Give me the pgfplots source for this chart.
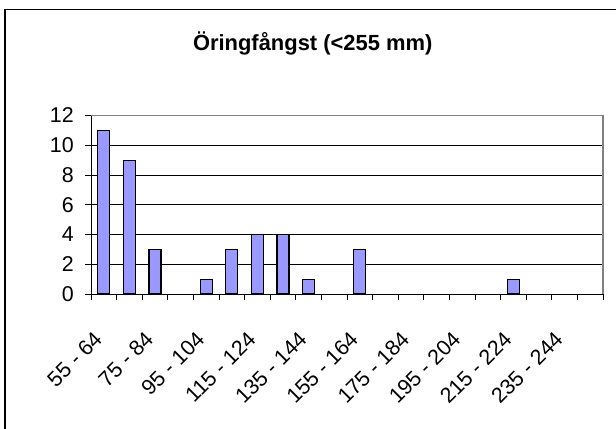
\documentclass[border=0pt]{standalone}
\usepackage{fontspec}
\setmainfont{Liberation Sans}
\usepackage{pgfplots}
\usepackage{pgfplotstable}
\pgfplotsset{compat=1.18}
\definecolor{barblue}{RGB}{153,153,255}
\definecolor{framegray}{RGB}{128,128,128}
\pgfplotstableread{
idx val
0 11
1 9
2 3
3 0
4 1
5 3
6 4
7 4
8 1
9 0
10 3
11 0
12 0
13 0
14 0
15 0
16 1
17 0
18 0
19 0
}\datatable
\begin{document}
\begin{tikzpicture}
\useasboundingbox (0bp,0bp) rectangle (616bp,429bp);
\draw[line width=1.1bp] (5bp,-20bp) -- (5bp,419.7bp) -- (640bp,419.7bp);
\node[font=\fontsize{22}{24}\selectfont\bfseries, anchor=base, inner sep=0pt] at (312.7bp,378.3bp) {Öringfångst (<255 mm)};
\begin{axis}[
  at={(91bp,135bp)}, anchor=south west,
  scale only axis, width=512bp, height=178.5bp,
  xmin=-0.5, xmax=19.5, ymin=0, ymax=12,
  ytick={0,2,...,12},
  xtick={0,2,...,18},
  xticklabels={55 - 64,75 - 84,95 - 104,115 - 124,135 - 144,155 - 164,175 - 184,195 - 204,215 - 224,235 - 244},
  minor xtick={-0.5,0.5,...,19.5},
  major x tick style={draw=none},
  minor x tick style={black, line width=0.8bp},
  y tick style={black, line width=0.8bp},
  tick align=outside,
  major tick length=6bp, minor tick length=6bp,
  axis x line*=bottom, axis y line*=left,
  axis line style={black, line width=1bp},
  ymajorgrids, grid style={black, line width=0.8bp},
  /pgf/number format/assume math mode=true,
  ticklabel style={font=\fontsize{21.5}{23}\selectfont, inner sep=0pt},
  yticklabel style={anchor=east, xshift=-11bp},
  xticklabel style={xshift=-11bp, yshift=-30bp, rotate=45, anchor=north east},
  ybar, bar width=12bp,
  unbounded coords=discard,
  clip=false,
]
\addplot[fill=barblue, draw=black, line width=1.2bp,
  y filter/.expression={y==0 ? nan : y}] table[x=idx, y=val] {\datatable};
\draw[framegray, line width=1.6bp] (rel axis cs:0,1) -- (rel axis cs:1,1) -- (rel axis cs:1,0);
\end{axis}
\end{tikzpicture}
\end{document}
